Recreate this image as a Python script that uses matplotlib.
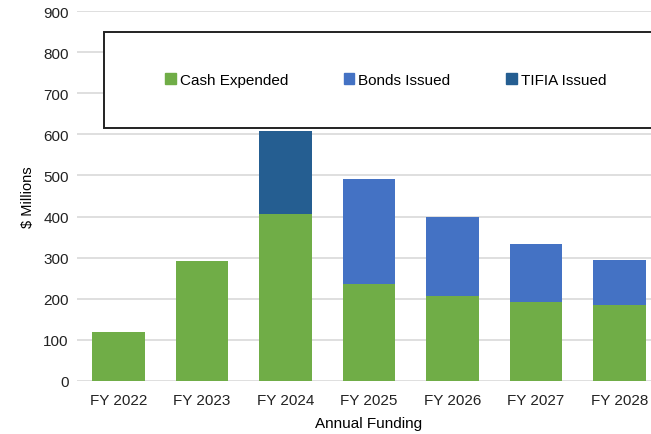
import matplotlib.pyplot as plt
from matplotlib.patches import Rectangle, Patch

plt.rcParams['font.family'] = ['Liberation Sans', 'DejaVu Sans']

# Datos
years = ['FY 2022', 'FY 2023', 'FY 2024', 'FY 2025', 'FY 2026', 'FY 2027', 'FY 2028']
cash = [118, 292, 406, 236, 207, 191, 185]
bonds = [0, 0, 0, 255, 193, 143, 109]
tifia = [0, 0, 202, 0, 0, 0, 0]

c_cash = '#70AD47'
c_bonds = '#4472C4'
c_tifia = '#255E91'

W, H = 651, 435
fig = plt.figure(figsize=(W / 100, H / 100), dpi=100)
# el área del gráfico se sale un poco por la derecha, como en la imagen
ax = fig.add_axes([77 / W, 53 / H, (661 - 77) / W, 370 / H])

x = range(len(years))
bw = 0.63
bottom2 = [c + b for c, b in zip(cash, bonds)]
ax.bar(x, cash, bw, color=c_cash, zorder=3)
ax.bar(x, bonds, bw, bottom=cash, color=c_bonds, zorder=3)
ax.bar(x, tifia, bw, bottom=bottom2, color=c_tifia, zorder=3)

ax.set_xlim(-0.5, len(years) - 0.5)
ax.set_ylim(0, 900)
ax.set_yticks(range(0, 901, 100))
ax.set_xticks(list(x))
ax.set_xticklabels(years)
ax.grid(axis='y', color='#D9D9D9', linewidth=1.2, zorder=0)
for s in ax.spines.values():
    s.set_visible(False)
ax.tick_params(length=0, labelsize=11, colors='#222222', pad=6)
ax.tick_params(axis='x', pad=9)
ax.set_ylabel('$ Millions', fontsize=10.5, labelpad=6)
ax.set_xlabel('Annual Funding', fontsize=11, labelpad=6)

# Recuadro de la leyenda
box = Rectangle((104 / W, (H - 129) / H), (680 - 104) / W, 96 / H,
                transform=fig.transFigure, facecolor='white',
                edgecolor='#222222', linewidth=1.4, zorder=5)
fig.patches.append(box)

handles = [Patch(color=c_cash), Patch(color=c_bonds), Patch(color=c_tifia)]
fig.legend(handles, ['Cash Expended', 'Bonds Issued', 'TIFIA Issued'],
           loc='center left', bbox_to_anchor=(165 / W, (H - 81) / H),
           ncol=3, frameon=False, fontsize=11, handlelength=0.7,
           handleheight=0.7, handletextpad=0.25, columnspacing=3.65,
           borderpad=0, borderaxespad=0)

fig.savefig('out.png', dpi=100)
